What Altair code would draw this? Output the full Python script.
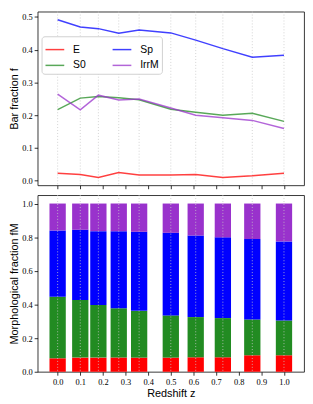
import altair as alt
import pandas as pd

# Redshift bins (bar / point positions)
z = [0.0, 0.1, 0.18, 0.27, 0.36, 0.5, 0.61, 0.73, 0.86, 1.0]
types = ["E", "S0", "Sp", "IrrM"]

# Top panel: bar fraction f per morphological type
bar_E = [0.023, 0.019, 0.010, 0.025, 0.017, 0.017, 0.019, 0.010, 0.015, 0.023]
bar_S0 = [0.217, 0.252, 0.257, 0.253, 0.247, 0.218, 0.209, 0.200, 0.206, 0.181]
bar_Sp = [0.491, 0.469, 0.464, 0.450, 0.460, 0.451, 0.429, 0.403, 0.377, 0.383]
bar_IrrM = [0.264, 0.216, 0.261, 0.246, 0.249, 0.222, 0.200, 0.192, 0.184, 0.159]

# Bottom panel: morphological fraction f_M (stacked)
morph_E = [0.080, 0.084, 0.084, 0.084, 0.084, 0.084, 0.086, 0.086, 0.098, 0.098]
morph_S0 = [0.366, 0.343, 0.313, 0.294, 0.278, 0.251, 0.239, 0.233, 0.213, 0.207]
morph_Sp = [0.394, 0.417, 0.439, 0.458, 0.470, 0.491, 0.485, 0.480, 0.478, 0.470]
morph_IrrM = [0.160, 0.156, 0.164, 0.164, 0.168, 0.174, 0.190, 0.201, 0.211, 0.225]

x_ticks = [0.0, 0.1, 0.2, 0.3, 0.4, 0.5, 0.6, 0.7, 0.8, 0.9, 1.0]
top_ticks = [0.0, 0.1, 0.2, 0.3, 0.4, 0.5]
bottom_ticks = [0.0, 0.2, 0.4, 0.6, 0.8, 1.0]

colors = {"E": "#ff0000", "S0": "#228b22", "Sp": "#0000ff", "IrrM": "#9932cc"}

bar_series = {"E": bar_E, "S0": bar_S0, "Sp": bar_Sp, "IrrM": bar_IrrM}
morph_series = {"E": morph_E, "S0": morph_S0, "Sp": morph_Sp, "IrrM": morph_IrrM}

line_rows = []
for t in types:
    for zi, v in zip(z, bar_series[t]):
        line_rows.append({"z": zi, "type": t, "f": v})
lines_df = pd.DataFrame(line_rows)

morph_rows = []
base = [0.0] * len(z)
for k, t in enumerate(types):
    for i, (zi, v) in enumerate(zip(z, morph_series[t])):
        morph_rows.append({"z": zi, "mtype": t, "y0": base[i], "y1": base[i] + v})
        base[i] += v
morph_df = pd.DataFrame(morph_rows)

grid_df = pd.DataFrame({"z": z})

xscale = alt.Scale(domain=[-0.0885, 1.0885], nice=False, zero=False)
W = 270

axis_top = alt.Axis(values=x_ticks, labels=False, title=None, format=".1f")
axis_bottom = alt.Axis(values=x_ticks, format=".1f", title="Redshift z",
                       labelOverlap=False, labelFlush=False)


def grid_rule(axis):
    return alt.Chart(grid_df).mark_rule(
        strokeDash=[1, 2], color="#c8c8c8", strokeWidth=0.8
    ).encode(x=alt.X("z:Q", scale=xscale, axis=axis))


lines = alt.Chart(lines_df).mark_line(strokeWidth=1.5, opacity=0.75).encode(
    x=alt.X("z:Q", scale=xscale, axis=axis_top),
    y=alt.Y("f:Q", scale=alt.Scale(domain=[-0.014, 0.516], nice=False, zero=False),
            axis=alt.Axis(values=top_ticks, format=".1f", title="Bar fraction f")),
    color=alt.Color("type:N",
                    scale=alt.Scale(domain=types,
                                    range=[colors[t] for t in types]),
                    legend=alt.Legend(
                        title=None, orient="none", legendX=4, legendY=25,
                        columns=2, columnPadding=24, rowPadding=-2,
                        symbolType="stroke", symbolSize=361, symbolStrokeWidth=1.5,
                        symbolOpacity=0.75, labelOffset=8,
                        labelFont="Liberation Sans", labelFontSize=10.5,
                        labelColor="black",
                        fillColor="white", strokeColor="#d0d0d0", cornerRadius=3,
                        padding=3)),
    order=alt.Order("z:Q"),
)

top = alt.layer(grid_rule(axis_top), lines).properties(width=W, height=176)

bars = alt.Chart(morph_df).mark_bar().transform_calculate(
    xl="datum.z - 0.036", xr="datum.z + 0.036"
).encode(
    x=alt.X("xl:Q", scale=xscale, axis=axis_bottom),
    x2="xr:Q",
    y=alt.Y("y0:Q",
            scale=alt.Scale(domain=[0, 1.05], nice=False),
            axis=alt.Axis(values=bottom_ticks, format=".1f",
                          title="Morphological fraction fM")),
    y2="y1:Q",
    color=alt.Color("mtype:N",
                    scale=alt.Scale(domain=types, range=[colors[t] for t in types]),
                    legend=None),
)

bottom = alt.layer(bars, grid_rule(axis_bottom)).properties(width=W, height=179)

chart = alt.vconcat(top, bottom, spacing=10, bounds="flush").resolve_scale(
    color="independent"
).properties(
    padding={"left": 0, "top": 0, "right": 0, "bottom": 0}
).configure_view(
    stroke="#222222", strokeWidth=0.9
).configure_axis(
    domain=False, grid=False,
    labelFont="Liberation Serif", labelFontSize=8.5, labelColor="black",
    labelPadding=2,
    tickColor="black", tickSize=3.5, tickWidth=0.8,
    titleFont="Liberation Sans", titleFontSize=11, titleFontWeight="normal",
    titleColor="black", titlePadding=2,
)

chart.save("out.html", embed_options={"renderer": "svg", "actions": False})
